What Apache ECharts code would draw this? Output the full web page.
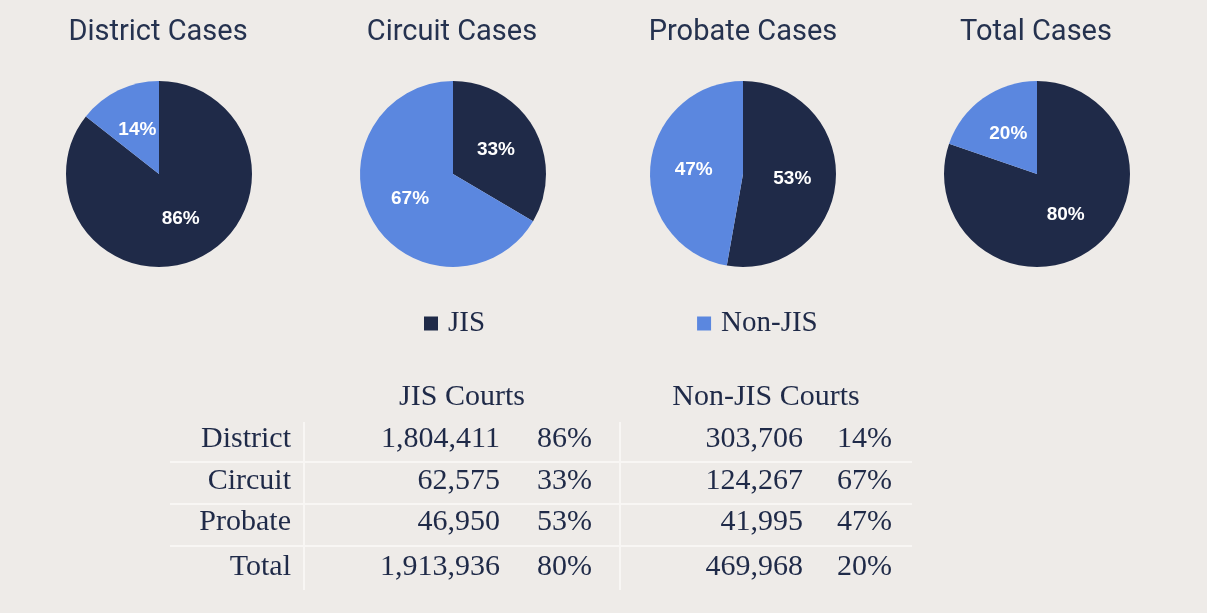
<!DOCTYPE html>
<html>
<head>
<meta charset="utf-8">
<script src="https://cdn.jsdelivr.net/npm/echarts@6/dist/echarts.min.js"></script>
<style>
html,body{margin:0;padding:0;background:#eeebe8;}
#main{width:1207px;height:613px;}
</style>
</head>
<body>
<div id="main"></div>
<script>
// ---- data ----
const courts = ['District', 'Circuit', 'Probate', 'Total'];
const pieTitles = ['District Cases', 'Circuit Cases', 'Probate Cases', 'Total Cases'];
const seriesNames = ['JIS', 'Non-JIS'];
const jisCounts = [1804411, 62575, 46950, 1913936];
const nonJisCounts = [303706, 124267, 41995, 469968];
const jisPct = ['86%', '33%', '53%', '80%'];
const nonJisPct = ['14%', '67%', '47%', '20%'];
const tableHeaders = ['JIS Courts', 'Non-JIS Courts'];

// ---- layout / style ----
const DARK = '#1f2a48';
const LIGHT = '#5b87df';
const TEXT = '#1f2a48';
const pieCentersX = [159, 453, 743, 1037];
const titleCentersX = [158, 452, 743, 1036];
const pieCenterY = 174;
const pieRadius = 93;
const serif = '"Liberation Serif", "Times New Roman", serif';
const sans = 'Roboto, "Noto Sans", sans-serif';

const chart = echarts.init(document.getElementById('main'), null, {renderer: 'canvas'});

const series = courts.map((c, i) => ({
  type: 'pie',
  name: c,
  center: [pieCentersX[i], pieCenterY],
  radius: [0, pieRadius],
  startAngle: 90,
  clockwise: true,
  percentPrecision: 0,
  silent: true,
  animation: false,
  label: {
    show: true,
    position: 'inside',
    formatter: '{d}%',
    color: '#ffffff',
    fontFamily: '"Liberation Sans", Arial, sans-serif',
    fontSize: 19,
    fontWeight: 'bold'
  },
  labelLine: {show: false},
  itemStyle: {borderWidth: 0},
  data: [
    {name: seriesNames[0], value: jisCounts[i], itemStyle: {color: DARK}},
    {name: seriesNames[1], value: nonJisCounts[i], itemStyle: {color: LIGHT}}
  ]
}));

// ---- titles and table built from arrays ----
const fmt = n => n.toLocaleString('en-US');
const rowY = [439, 481, 522, 567];
const colRight = {label: 291, jis: 500, jisP: 592, non: 803, nonP: 892};
const headerX = [462, 766];
const headerY = 397;
const hLineY = [462, 504, 546];
const vLineX = [304, 620];

const graphics = [];
pieTitles.forEach((t, i) => graphics.push({
  type: 'text', x: titleCentersX[i], y: 33, silent: true,
  style: {text: t, fill: '#25324f', font: '29px ' + sans, textAlign: 'center', textVerticalAlign: 'middle'}
}));
function txt(x, y, s, align) {
  graphics.push({
    type: 'text', x: x, y: y, silent: true,
    style: {text: s, fill: TEXT, font: '30px ' + serif, textAlign: align, textVerticalAlign: 'middle'}
  });
}
tableHeaders.forEach((h, i) => txt(headerX[i], headerY, h, 'center'));
courts.forEach((c, i) => {
  txt(colRight.label, rowY[i], c, 'right');
  txt(colRight.jis, rowY[i], fmt(jisCounts[i]), 'right');
  txt(colRight.jisP, rowY[i], jisPct[i], 'right');
  txt(colRight.non, rowY[i], fmt(nonJisCounts[i]), 'right');
  txt(colRight.nonP, rowY[i], nonJisPct[i], 'right');
});
hLineY.forEach(y => graphics.push({
  type: 'line', silent: true, z: -1,
  shape: {x1: 170, y1: y, x2: 912, y2: y},
  style: {stroke: '#f8f6f4', lineWidth: 2}
}));
vLineX.forEach(x => graphics.push({
  type: 'line', silent: true, z: -1,
  shape: {x1: x, y1: 422, x2: x, y2: 590},
  style: {stroke: '#f8f6f4', lineWidth: 2}
}));

chart.setOption({
  backgroundColor: '#eeebe8',
  animation: false,
  legend: {
    data: seriesNames,
    left: 419,
    top: 304,
    icon: 'rect',
    itemWidth: 14,
    itemHeight: 14,
    itemGap: 212,
    selectedMode: false,
    textStyle: {fontFamily: serif, fontSize: 29, color: TEXT, padding: [0, 0, 0, 5]}
  },
  series: series,
  graphic: graphics
});
</script>
</body>
</html>
